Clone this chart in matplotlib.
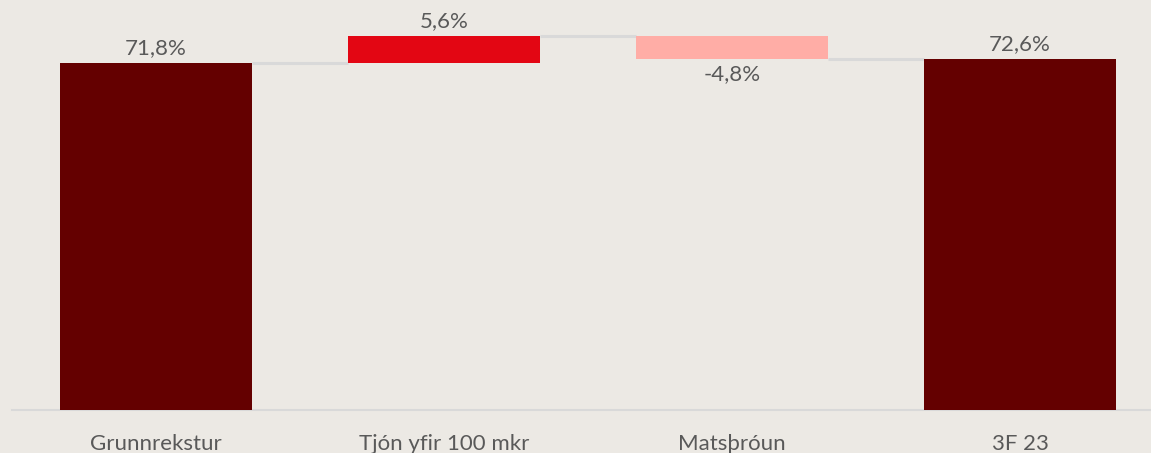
import matplotlib
matplotlib.use("Agg")
import matplotlib.pyplot as plt
import numpy as np

categories = ["Grunnrekstur", "Tjón yfir 100 mkr", "Matsþróun", "3F 23"]
start_value = 71.8
deltas = [5.6, -4.8]
end_value = 72.6

BG = "#ECE9E4"
DARK = "#640000"
RED = "#E30613"
PINK = "#FFADA6"
TXT = "#595959"
LINE = "#D9D9D9"

plt.rcParams['font.family'] = ['Lato', 'DejaVu Sans']

fig = plt.figure(figsize=(11.51, 4.53), dpi=100, facecolor=BG)
W, H = 1151, 453
ax = fig.add_axes([12 / W, (H - 410) / H, 1152 / W, 410 / H])
ax.set_facecolor(BG)

x = np.arange(len(categories))
width = 2 / 3

# compute waterfall
bottoms = [0]
heights = [start_value]
levels = [start_value]
run = start_value
for d in deltas:
    new = run + d
    bottoms.append(min(run, new))
    heights.append(abs(d))
    run = new
    levels.append(run)
bottoms.append(0)
heights.append(end_value)
levels.append(end_value)
colors = [DARK] + [RED if d > 0 else PINK for d in deltas] + [DARK]

ax.bar(x, heights, bottom=bottoms, width=width, color=colors, zorder=3)

# connectors
for i in range(len(categories) - 1):
    ax.hlines(levels[i], x[i] + width / 2, x[i + 1] - width / 2, color=LINE, lw=2.2, zorder=2)

def fmt(v):
    return (f"{v:.1f}%").replace(".", ",")

FS = 16
values = [start_value] + deltas + [end_value]
for i, v in enumerate(values):
    top = bottoms[i] + heights[i]
    if i in (0, len(values) - 1) or v > 0:
        ax.annotate(fmt(v), (x[i], top), xytext=(0, 3.5), textcoords="offset points",
                    ha="center", va="bottom", color=TXT, fontsize=FS)
    else:
        ax.annotate(fmt(v), (x[i], bottoms[i]), xytext=(0, -3.5), textcoords="offset points",
                    ha="center", va="top", color=TXT, fontsize=FS)

ax.set_xlim(-0.5, len(categories) - 0.5)
ax.set_ylim(0, 84.8)
ax.set_xticks(x)
ax.set_xticklabels(categories, color=TXT, fontsize=FS)
ax.tick_params(axis='x', length=0, pad=17)
ax.set_yticks([])
for s in ["top", "right", "left"]:
    ax.spines[s].set_visible(False)
ax.spines["bottom"].set_color(LINE)
ax.spines["bottom"].set_linewidth(1.5)

fig.savefig("out.png", dpi=100, facecolor=BG)
